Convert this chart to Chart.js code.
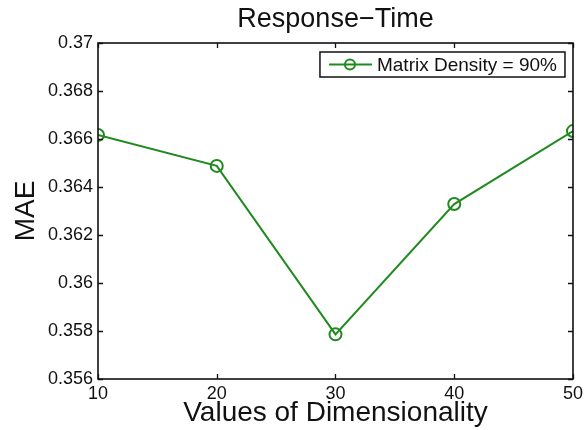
<!DOCTYPE html>
<html>
<head>
    <title>Response-Time MAE</title>
    <script src="https://cdn.jsdelivr.net/npm/chart.js"></script>
    <style>
        html, body { margin: 0; padding: 0; background: #fff; }
        #wrap { width: 587px; height: 430px; }
    </style>
</head>
<body>
    <div id="wrap"><canvas id="maeChart"></canvas></div>
    <script>
        const dims = [10, 20, 30, 40, 50];
        const mae = [0.36617, 0.36488, 0.35786, 0.36329, 0.36633];
        const xTickValues = [10, 20, 30, 40, 50];
        const yTickValues = [0.356, 0.358, 0.36, 0.362, 0.364, 0.366, 0.368, 0.37];
        const seriesLabel = 'Matrix Density = 90%';
        const chartTitle = 'Response\u2212Time';

        const FONT = "'Liberation Sans', Arial, Helvetica, sans-serif";
        const GREEN = '#1f8a1f';

        // matlab style: box around the axes, ticks pointing inward, legend box top right
        const matlabAxes = {
            id: 'matlabAxes',
            afterDraw(chart) {
                const ctx = chart.ctx;
                const a = chart.chartArea;
                const xs = chart.scales.x, ys = chart.scales.y;
                const tl = 5;
                ctx.save();
                ctx.strokeStyle = '#111';
                ctx.lineWidth = 1.6;
                ctx.strokeRect(a.left, a.top, a.right - a.left, a.bottom - a.top);
                ctx.lineWidth = 1.3;
                ctx.beginPath();
                xs.ticks.forEach(t => {
                    const px = Math.round(xs.getPixelForValue(t.value)) + 0.5;
                    ctx.moveTo(px, a.bottom); ctx.lineTo(px, a.bottom - tl);
                    ctx.moveTo(px, a.top); ctx.lineTo(px, a.top + tl);
                });
                ys.ticks.forEach(t => {
                    const py = Math.round(ys.getPixelForValue(t.value)) + 0.5;
                    ctx.moveTo(a.left, py); ctx.lineTo(a.left + tl, py);
                    ctx.moveTo(a.right, py); ctx.lineTo(a.right - tl, py);
                });
                ctx.stroke();

                // title centred over the axes
                ctx.fillStyle = '#111';
                ctx.font = '27px ' + FONT;
                ctx.textAlign = 'center';
                ctx.textBaseline = 'middle';
                ctx.fillText(chartTitle, (a.left + a.right) / 2, 20);

                // legend
                const ds = chart.data.datasets[0];
                ctx.font = '19px ' + FONT;
                const tw = ctx.measureText(ds.label).width;
                const boxW = 10 + 43 + 5 + tw + 7;
                const boxH = 25;
                const bx = a.right - 8 - boxW;
                const by = a.top + 9;
                ctx.fillStyle = '#fff';
                ctx.fillRect(bx, by, boxW, boxH);
                ctx.strokeStyle = '#111';
                ctx.lineWidth = 1.5;
                ctx.strokeRect(bx, by, boxW, boxH);
                const ly = by + boxH / 2;
                ctx.strokeStyle = ds.borderColor;
                ctx.lineWidth = ds.borderWidth;
                ctx.beginPath();
                ctx.moveTo(bx + 9, ly); ctx.lineTo(bx + 52, ly);
                ctx.stroke();
                ctx.beginPath();
                ctx.arc(bx + 30, ly, 5, 0, Math.PI * 2);
                ctx.stroke();
                ctx.fillStyle = '#111';
                ctx.textAlign = 'left';
                ctx.fillText(ds.label, bx + 57, ly + 1);
                ctx.restore();
            }
        };

        const ctx = document.getElementById('maeChart').getContext('2d');
        new Chart(ctx, {
            type: 'line',
            data: {
                datasets: [{
                    label: seriesLabel,
                    data: dims.map((d, i) => ({ x: d, y: mae[i] })),
                    borderColor: GREEN,
                    backgroundColor: 'rgba(0,0,0,0)',
                    borderWidth: 2,
                    tension: 0,
                    pointStyle: 'circle',
                    pointRadius: 6,
                    pointBorderWidth: 2,
                    pointBorderColor: GREEN,
                    pointBackgroundColor: 'rgba(0,0,0,0)'
                }]
            },
            options: {
                responsive: true,
                maintainAspectRatio: false,
                animation: false,
                layout: { padding: { top: 43, right: 11, left: 0, bottom: 0 } },
                plugins: {
                    legend: { display: false },
                    title: { display: false },
                    tooltip: { enabled: false }
                },
                scales: {
                    x: {
                        type: 'linear',
                        min: 10,
                        max: 50,
                        afterBuildTicks: s => { s.ticks = xTickValues.map(v => ({ value: v })); },
                        afterFit: s => { s.height = 51; },
                        border: { display: false },
                        grid: { display: false, drawTicks: false },
                        ticks: {
                            padding: 4,
                            color: '#111',
                            font: { family: FONT, size: 18 },
                            maxRotation: 0
                        },
                        title: {
                            display: true,
                            text: 'Values of Dimensionality',
                            color: '#111',
                            font: { family: FONT, size: 28 },
                            padding: { top: 0, bottom: 0 }
                        }
                    },
                    y: {
                        type: 'linear',
                        min: 0.356,
                        max: 0.37,
                        afterBuildTicks: s => { s.ticks = yTickValues.map(v => ({ value: v })); },
                        afterFit: s => { s.width = 98; },
                        border: { display: false },
                        grid: { display: false, drawTicks: false },
                        ticks: {
                            padding: 5,
                            color: '#111',
                            font: { family: FONT, size: 18 },
                            callback: v => parseFloat(v.toFixed(3)).toString()
                        },
                        title: {
                            display: true,
                            text: 'MAE',
                            color: '#111',
                            font: { family: FONT, size: 28 },
                            padding: { top: 9, bottom: 0 }
                        }
                    }
                }
            },
            plugins: [matlabAxes]
        });
    </script>
</body>
</html>
